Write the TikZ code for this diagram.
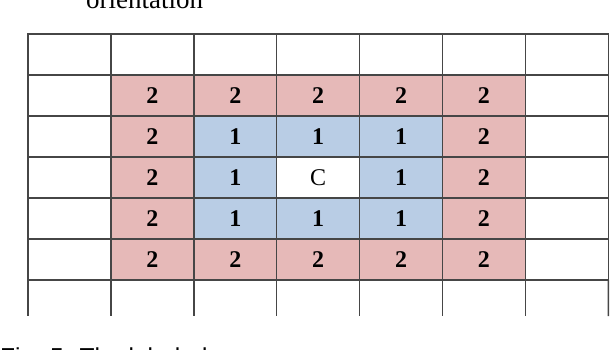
\documentclass[tikz,border=0pt]{standalone}
\usepackage{fontspec}
\setmainfont{Liberation Serif}
\newfontfamily\captionfont{Liberation Sans}
\usepackage{tikz}
\definecolor{gridline}{RGB}{70,70,70}
\definecolor{ringtwo}{RGB}{230,185,184}
\definecolor{ringone}{RGB}{185,205,229}
\tikzset{
  cell/.style = {rectangle, draw=gridline, line width=1.5pt, inner sep=0pt,
    outer sep=0pt, minimum width=82.9pt, minimum height=41pt,
    font=\fontsize{24}{27}\selectfont},
  ring_0/.style = {cell, fill=white},% centre
  ring_1/.style = {cell, fill=ringone, font=\fontsize{24}{27}\selectfont\bfseries},% first ring
  ring_2/.style = {cell, fill=ringtwo, font=\fontsize{24}{27}\selectfont\bfseries},% second ring
  ring_3/.style = {cell, fill=white},% outside
  grid_line/.style = {draw=gridline, line width=1.5pt}
}
\begin{document}
\begin{tikzpicture}[x=1pt, y=-1pt]
  \useasboundingbox (0,0) rectangle (614,350);
  \clip (0,0) rectangle (614,350);

  \node [anchor=base west, inner sep=0pt, font=\fontsize{27}{30}\selectfont]
    (heading) at (86,9) {orientation};

  % grid of cells, ring number = distance to the centre
  \foreach \r in {0,...,5}
    \foreach \c in {0,...,6} {
      \pgfmathtruncatemacro\ring{max(abs(\r-3),abs(\c-3))}
      \node [ring_\ring] (cell-\r-\c) at ({69.45+82.9*\c},{54.5+41*\r})
        {\ifcase\ring C\or 1\or 2\or\fi};
    }

  % open bottom row
  \foreach \c in {0,...,6} {
    \coordinate (foot-\c) at ({28+82.9*\c},316);
    \draw [grid_line] (cell-5-\c.south west) -- (foot-\c);
  }
  \coordinate (foot-7) at (608.3,316);
  \draw [grid_line] (cell-5-6.south east) -- (foot-7);

  \node [anchor=base west, inner sep=0pt, font=\captionfont\fontsize{24.5}{28}\selectfont]
    (caption) at (0,365.5) {Fig. 5. The labeled};
\end{tikzpicture}
\end{document}
